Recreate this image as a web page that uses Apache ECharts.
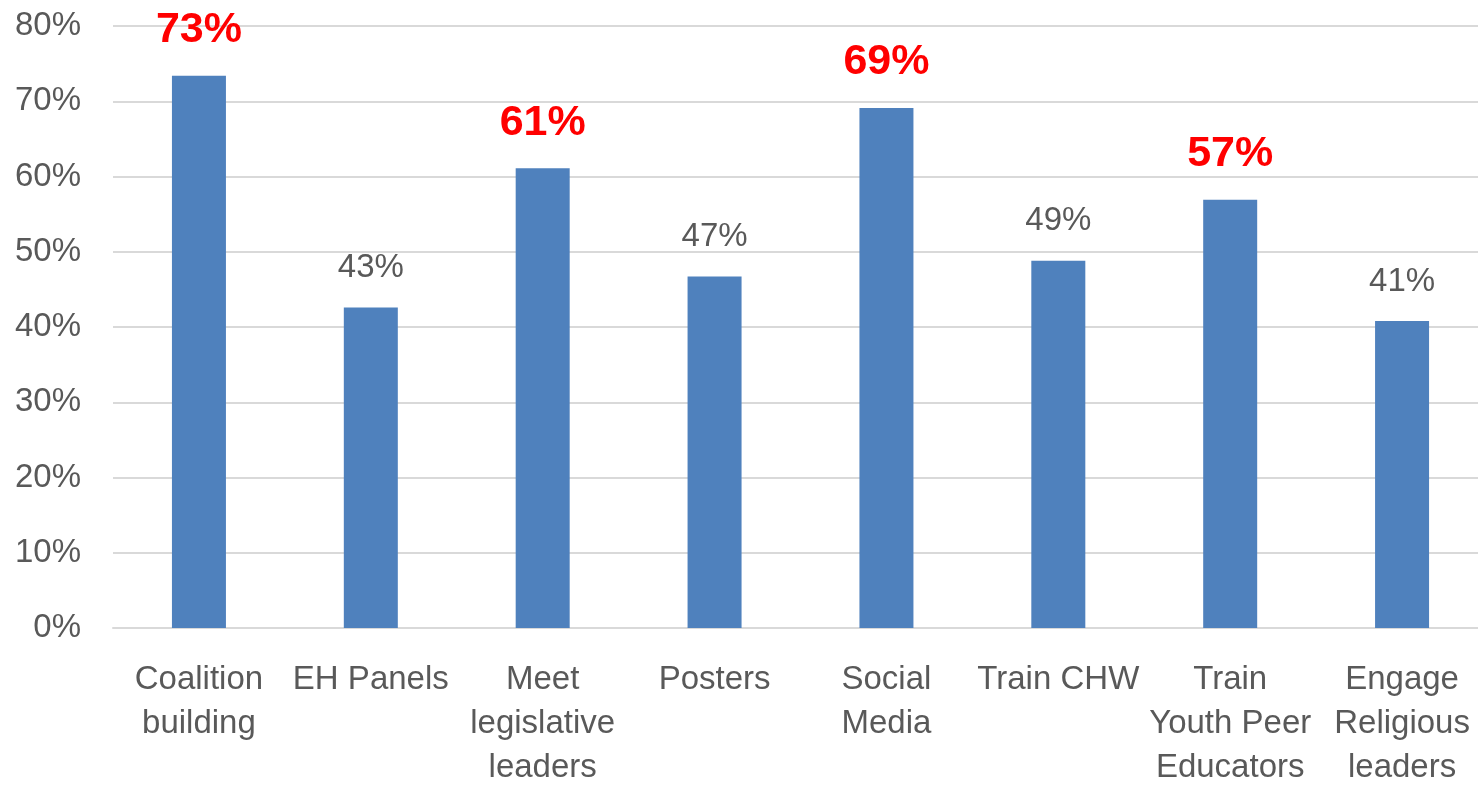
<!DOCTYPE html>
<html>
<head>
<meta charset="utf-8">
<script src="https://cdn.jsdelivr.net/npm/echarts@6/dist/echarts.min.js"></script>
<style>
  html, body { margin: 0; padding: 0; background: #fff; }
  #chart { width: 1478px; height: 785px; }
</style>
</head>
<body>
<div id="chart"></div>
<script>
// categories (line breaks as in the original)
const categories = [
  "Coalition\nbuilding",
  "EH Panels",
  "Meet\nlegislative\nleaders",
  "Posters",
  "Social\nMedia",
  "Train CHW",
  "Train\nYouth Peer\nEducators",
  "Engage\nReligious\nleaders",
]
// percent values
const values = [73.4, 42.6, 61.1, 46.7, 69.1, 48.8, 56.9, 40.8]
// which labels are shown big and red
const highlighted = [true, false, true, false, true, false, true, false]
const yTicks = [0, 10, 20, 30, 40, 50, 60, 70, 80]

const FONT = "Liberation Sans"
const GREY = "#595959"

const chart = echarts.init(document.getElementById("chart"))

const option = {
  animation: false,
  grid: {
    left: 113,
    right: -10,
    top: 26,
    bottom: 157,
    containLabel: false,
    outerBoundsMode: "none",
  },
  xAxis: {
    type: "category",
    data: categories,
    axisLine: { lineStyle: { color: "#d9d9d9", width: 2 } },
    axisTick: { show: false },
    axisLabel: {
      interval: 0,
      margin: 30,
      color: GREY,
      fontFamily: FONT,
      fontSize: 33,
      lineHeight: 44,
    },
  },
  yAxis: {
    type: "value",
    min: yTicks[0],
    max: yTicks[yTicks.length - 1],
    interval: yTicks[1] - yTicks[0],
    axisLine: { show: false },
    axisTick: { show: false },
    splitLine: { lineStyle: { color: "#d9d9d9", width: 2 } },
    axisLabel: {
      formatter: "{value}%",
      margin: 32,
      color: GREY,
      fontFamily: FONT,
      fontSize: 33,
    },
  },
  series: [
    {
      type: "bar",
      barWidth: 54,
      itemStyle: { color: "#4F81BD" },
      data: values.map((v, i) => ({
        value: v,
        label: highlighted[i]
          ? { color: "#FF0000", fontWeight: "bold", fontSize: 43, distance: 24 }
          : { color: GREY, fontWeight: "normal", fontSize: 33, distance: 23 },
      })),
      label: {
        show: true,
        position: "top",
        fontFamily: FONT,
        formatter: (p) => Math.round(p.value) + "%",
      },
    },
  ],
}

chart.setOption(option)
</script>
</body>
</html>
